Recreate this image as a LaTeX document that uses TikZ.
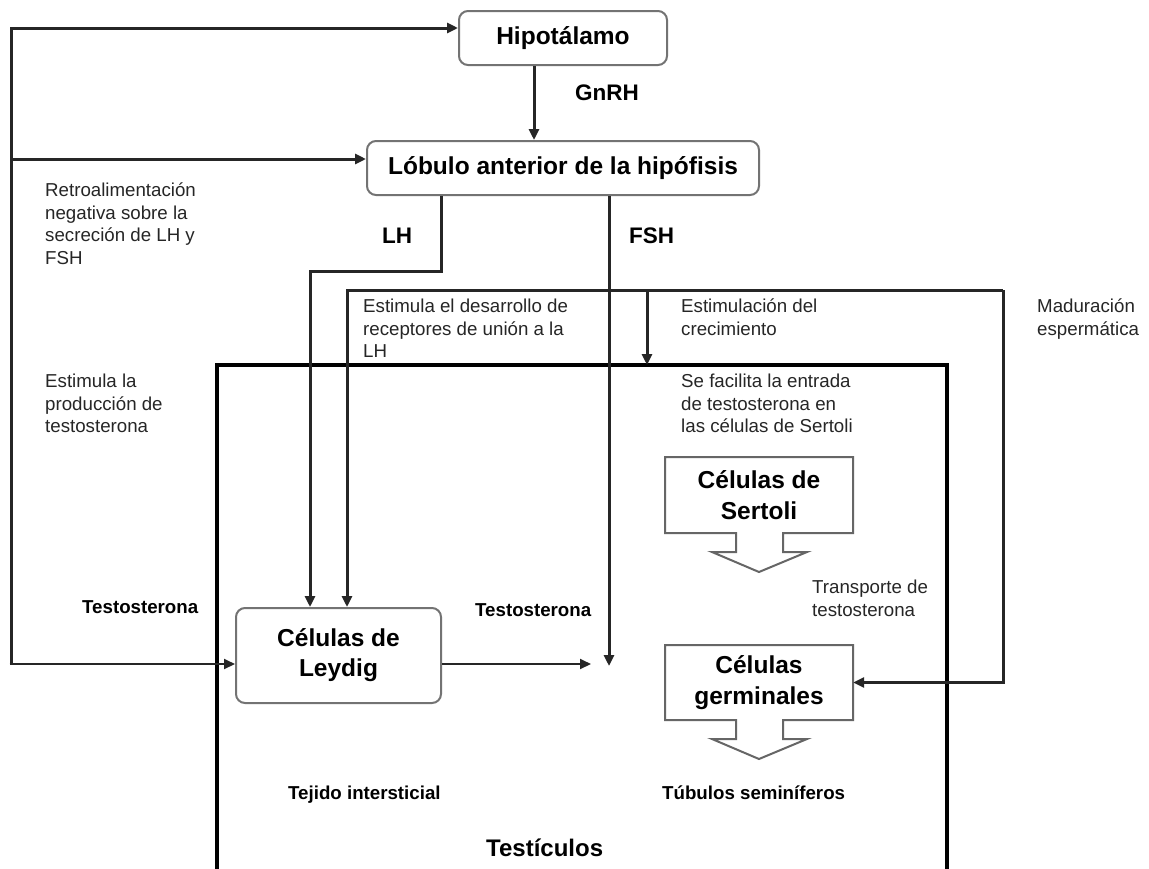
\documentclass[tikz,border=0pt]{standalone}
\usepackage{fontspec}
\setmainfont{Liberation Sans}
\usetikzlibrary{arrows.meta}
\begin{document}
\begin{tikzpicture}[x=1pt,y=-1pt,
  ln/.style={line width=3pt, draw=black!85},
  thin/.style={line width=2pt, draw=black!85},
  tip/.style={-{Triangle[length=11pt,width=10pt]}},
  small/.style={font=\fontsize{18.7}{22.5}\selectfont, align=left, inner sep=0pt, anchor=north west, text=black!85},
  blab/.style={font=\bfseries\fontsize{18.7}{22}\selectfont, inner sep=0pt, anchor=base west},
  hlab/.style={font=\bfseries\fontsize{22.5}{26}\selectfont, inner sep=0pt, anchor=base west},
  rbox/.style={draw=black!55, line width=2pt, rounded corners=9pt, fill=white, font=\bfseries\fontsize{24.5}{30}\selectfont, align=center, inner sep=0pt},
  tbox/.style={inner sep=0pt, font=\bfseries\fontsize{24.5}{31}\selectfont, align=center},
  barrow/.style={draw=black!60, line width=2pt, fill=white, line join=miter}
]
\fill[white] (0,0) rectangle (1149,868);
\useasboundingbox (0,0) rectangle (1149,868);

% testis box
\draw[line width=4pt, black] (217,872) -- (217,365) -- (947,365) -- (947,872);

% boxes
\node[rbox, minimum width=208pt, minimum height=54pt] (hipo) at (563,38) {Hipotálamo};
\node[rbox, minimum width=392pt, minimum height=54pt] (lob) at (563,168) {Lóbulo anterior de la hipófisis};
\node[rbox, minimum width=205pt, minimum height=95pt] (ley) at (338.5,655.5) {Células de\\Leydig};

\draw[barrow] (665,457) -- (853,457) -- (853,533) -- (783,533) -- (783,552) -- (807,552) -- (759,572) -- (712,552) -- (736,552) -- (736,533) -- (665,533) -- cycle;
\draw[barrow] (665,645) -- (853,645) -- (853,720) -- (783,720) -- (783,739) -- (807,739) -- (759,759) -- (712,739) -- (736,739) -- (736,720) -- (665,720) -- cycle;
\node[tbox, minimum width=188pt, minimum height=76pt] (sert) at (759,495) {Células de\\Sertoli};
\node[tbox, minimum width=188pt, minimum height=75pt] (germ) at (759,682.5) {Células\\germinales};

% coordinates
\coordinate (fbtop) at (11,28);
\coordinate (fbmid) at (11,159);
\coordinate (fbbot) at (11,664);
\coordinate (j1) at (347,290);
\coordinate (j2) at (1003,290);
\coordinate (j3) at (647,290);
\coordinate (ttop) at (647,365);
\coordinate (fshend) at (609,666);
\coordinate (tend) at (591,664);

% feedback
\draw[ln,tip] (fbbot) -- (fbtop) -- (hipo.west |- fbtop);
\draw[ln,tip] (fbmid) -- (lob.west |- fbmid);
\draw[thin,tip] ([xshift=-1.5pt]fbbot) -- (ley.west |- fbbot);

% GnRH
\draw[ln,tip] ([xshift=-29pt]hipo.south) -- ([xshift=-29pt]lob.north);
% LH
\draw[ln,tip] ([xshift=-122pt]lob.south) -- ++(0,75) -| ([xshift=-28.5pt]ley.north);
% FSH
\draw[ln,tip] (lob.south -| fshend) -- (fshend);
% stimulation line
\draw[ln,tip] (j2) -- (j1) -- (ley.north -| j1);
\draw[ln,tip] (j2) |- (germ.east);
\draw[ln,tip] (j3) -- (ttop);
% Leydig output
\draw[thin,tip] (ley.east |- tend) -- (tend);

% labels
\node[hlab] (gnrh) at (575,100) {GnRH};
\node[hlab] (lh) at (382,243) {LH};
\node[hlab] (fsh) at (629,243) {FSH};

\node[small] (retro) at (45,183) {Retroalimentación\\negativa sobre la\\secreción de LH y\\FSH};
\node[small] (estprod) at (45,374) {Estimula la\\producción de\\testosterona};
\node[small] (estrec) at (363,299) {Estimula el desarrollo de\\receptores de unión a la\\LH};
\node[small] (estcre) at (681,299) {Estimulación del\\crecimiento};
\node[small] (madur) at (1037,299) {Maduración\\espermática};
\node[small] (facil) at (681,374) {Se facilita la entrada\\de testosterona en\\las células de Sertoli};
\node[small] (transp) at (812,580) {Transporte de\\testosterona};

\node[blab] (testo1) at (82,613) {Testosterona};
\node[blab] (testo2) at (475,616) {Testosterona};
\node[blab] (tejido) at (288,799) {Tejido intersticial};
\node[blab] (tubulos) at (662,799) {Túbulos seminíferos};
\node[font=\bfseries\fontsize{24}{28}\selectfont, inner sep=0pt, anchor=base west] (testic) at (486,856) {Testículos};
\end{tikzpicture}
\end{document}
